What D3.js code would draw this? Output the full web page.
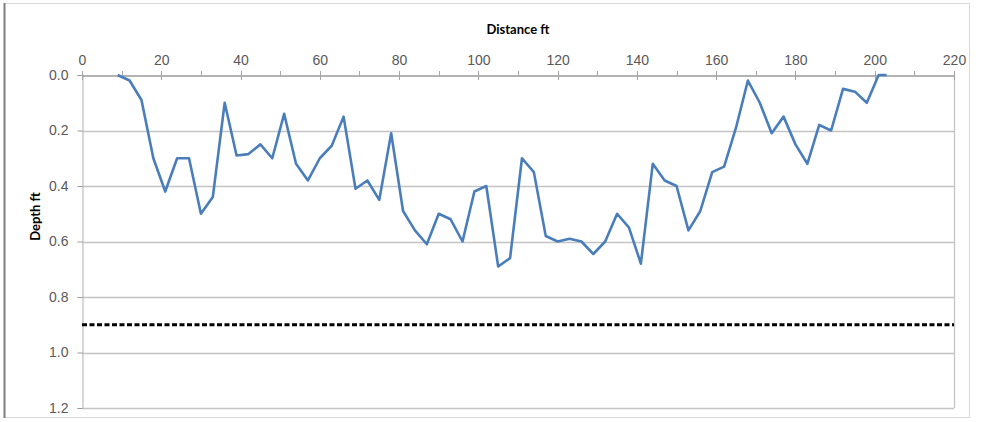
<!DOCTYPE html>
<html>
<head>
<meta charset="utf-8">
<script src="https://cdn.jsdelivr.net/npm/d3@7/dist/d3.min.js"></script>
<style>
  html, body { margin: 0; padding: 0; background: #fff; }
  svg { display: block; font-family: Lato, "Open Sans", sans-serif; }
</style>
</head>
<body>
<svg id="chart" width="982" height="422"></svg>
<script>
// Survey station positions along the section (ft)
const distance = [9, 12, 15, 18, 21, 24, 27, 30, 33, 36, 39, 42, 45, 48, 51, 54, 57, 60, 63, 66,
  69, 72, 75, 78, 81, 84, 87, 90, 93, 96, 99, 102, 105, 108, 111, 114, 117, 120, 123, 126,
  129, 132, 135, 138, 141, 144, 147, 150, 153, 156, 159, 162, 165, 168, 171, 174, 177, 180,
  183, 186, 189, 192, 195, 198, 201, 203];
// Measured depth at each station (ft)
const depth = [0.0, 0.02, 0.09, 0.30, 0.42, 0.30, 0.30, 0.50, 0.44, 0.10, 0.29, 0.285, 0.25, 0.30, 0.14, 0.32, 0.38, 0.30, 0.255, 0.15,
  0.41, 0.38, 0.45, 0.21, 0.49, 0.56, 0.61, 0.50, 0.52, 0.60, 0.42, 0.40, 0.69, 0.66, 0.30, 0.35,
  0.58, 0.60, 0.59, 0.60, 0.645, 0.60, 0.50, 0.55, 0.68, 0.32, 0.38, 0.40, 0.56, 0.49,
  0.35, 0.33, 0.19, 0.02, 0.10, 0.21, 0.15, 0.25, 0.32, 0.18, 0.20, 0.05, 0.06, 0.10, 0.0, 0.0];
// Reference depth shown as a dashed line (ft)
const referenceDepth = 0.9;

const xTicks = [0, 20, 40, 60, 80, 100, 120, 140, 160, 180, 200, 220];
const xMinorTicks = [10, 30, 50, 70, 90, 110, 130, 150, 170, 190, 210];
const yTicks = [0.0, 0.2, 0.4, 0.6, 0.8, 1.0, 1.2];

const svg = d3.select("#chart");
const plot = { left: 82, right: 954, top: 75, bottom: 408 };

const x = d3.scaleLinear().domain([0, 220]).range([plot.left, plot.right]);
const y = d3.scaleLinear().domain([0, 1.2]).range([plot.top, plot.bottom]);

// Chart frame
svg.append("rect")
  .attr("x", 4.5).attr("y", 3.5).attr("width", 965).attr("height", 414)
  .attr("fill", "#fff").attr("stroke", "#d9d9d9").attr("stroke-width", 1);
svg.append("line")
  .attr("x1", 4.5).attr("x2", 4.5).attr("y1", 3).attr("y2", 418)
  .attr("stroke", "#7f7f7f").attr("stroke-width", 2);

// Horizontal gridlines
svg.append("g")
  .selectAll("line")
  .data(yTicks.slice(1))
  .join("line")
  .attr("x1", plot.left).attr("x2", plot.right)
  .attr("y1", d => Math.round(y(d)) + 0.5).attr("y2", d => Math.round(y(d)) + 0.5)
  .attr("stroke", "#c4c4c4").attr("stroke-width", 1.3);

// Right edge of plot area
svg.append("line")
  .attr("x1", plot.right + 0.5).attr("x2", plot.right + 0.5)
  .attr("y1", plot.top).attr("y2", plot.bottom)
  .attr("stroke", "#c4c4c4").attr("stroke-width", 1.3);

// Left (depth) axis
const yAxis = d3.axisLeft(y)
  .tickValues(yTicks)
  .tickFormat(d3.format(".1f"))
  .tickSize(5)
  .tickPadding(9);
const gy = svg.append("g")
  .attr("transform", `translate(${plot.left + 0.5},0)`)
  .call(yAxis);
gy.select(".domain").attr("stroke", "#bdbdbd").attr("stroke-width", 1.2);
gy.selectAll(".tick line").attr("stroke", "#9a9a9a");
gy.selectAll(".tick text")
  .attr("fill", "#595959").attr("font-size", 14);

// Top (distance) axis
const xAxis = d3.axisTop(x)
  .tickValues(xTicks)
  .tickSize(0)
  .tickPadding(11);
const gx = svg.append("g")
  .attr("transform", `translate(0,${plot.top + 0.5})`)
  .call(xAxis);
gx.select(".domain").attr("stroke", "#9a9a9a").attr("stroke-width", 1.3);
gx.selectAll(".tick text")
  .attr("fill", "#595959").attr("font-size", 14);

// Tick marks crossing the top axis line
svg.append("g")
  .selectAll("line")
  .data(xTicks.concat(xMinorTicks))
  .join("line")
  .attr("x1", d => Math.round(x(d)) + 0.5).attr("x2", d => Math.round(x(d)) + 0.5)
  .attr("y1", plot.top - 4).attr("y2", d => xTicks.includes(d) ? plot.top + 5 : plot.top + 0.5)
  .attr("stroke", "#a6a6a6").attr("stroke-width", 1);

// Axis titles
svg.append("text")
  .attr("x", x(110)).attr("y", 34)
  .attr("text-anchor", "middle")
  .attr("font-size", 13).attr("font-weight", "bold").attr("fill", "#000")
  .text("Distance ft");
svg.append("text")
  .attr("transform", `translate(40,${y(0.6) - 25}) rotate(-90)`)
  .attr("text-anchor", "middle")
  .attr("font-size", 13).attr("font-weight", "bold").attr("fill", "#000")
  .text("Depth ft");

// Reference depth line
svg.append("line")
  .attr("x1", x(0)).attr("x2", x(220))
  .attr("y1", y(referenceDepth)).attr("y2", y(referenceDepth))
  .attr("stroke", "#000").attr("stroke-width", 3)
  .attr("stroke-dasharray", "5,2.5");

// Depth profile
const points = distance.map((d, i) => [d, depth[i]]);
const line = d3.line().x(d => x(d[0])).y(d => y(d[1]));
svg.append("path")
  .datum(points)
  .attr("d", line)
  .attr("fill", "none")
  .attr("stroke", "#4a7ebb")
  .attr("stroke-width", 2.6)
  .attr("stroke-linejoin", "round");
</script>
</body>
</html>
